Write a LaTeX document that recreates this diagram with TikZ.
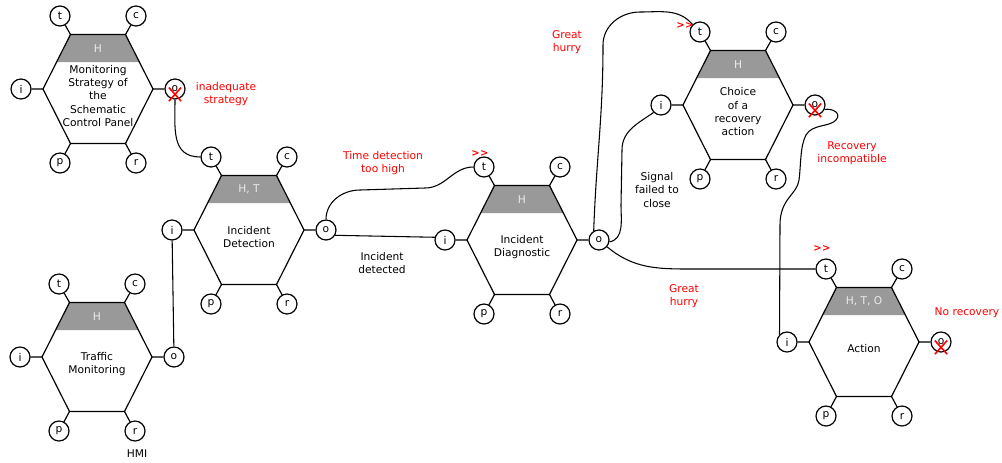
\documentclass[tikz,border=0pt]{standalone}
\usepackage{fontspec}
\setmainfont{DejaVu Sans}
\usepackage{tikz}
\usetikzlibrary{shapes.misc}

\definecolor{bandgrey}{RGB}{153,153,153}
\definecolor{bandfont}{RGB}{235,235,235}
\definecolor{warnred}{RGB}{255,0,0}

% one FRAM function: name, centre, band text, label
\newcommand{\framfn}[4]{%
\begin{scope}[shift={(#2)}]
\coordinate (#1-tl) at (-27.5,54.5);
\coordinate (#1-tr) at (27.5,54.5);
\coordinate (#1-rr) at (55,0);
\coordinate (#1-br) at (27.5,-54.5);
\coordinate (#1-bl) at (-27.5,-54.5);
\coordinate (#1-ll) at (-55,0);
\fill[bandgrey] (#1-tl) -- (#1-tr) -- (41.4,27) -- (-41.4,27) -- cycle;
\draw[hexline] (#1-tl) -- (#1-tr) -- (#1-rr) -- (#1-br) -- (#1-bl) -- (#1-ll) -- cycle;
\node[bandtext] (#1-band) at (0,40.7) {#3};
\node[fntext] (#1-lbl) at (0,-7) {#4};
\node[aspect] (#1-t) at (-38,73) {t};
\node[aspect] (#1-c) at (38,73) {c};
\node[aspect] (#1-i) at (-77,0) {i};
\node[aspect] (#1-o) at (77,0) {o};
\node[aspect] (#1-p) at (-38,-74) {p};
\node[aspect] (#1-r) at (38,-74) {r};
\draw[hexline] (#1-t) -- (#1-tl) (#1-c) -- (#1-tr) (#1-i) -- (#1-ll)
  (#1-o) -- (#1-rr) (#1-p) -- (#1-bl) (#1-r) -- (#1-br);
\end{scope}}

\begin{document}
\begin{tikzpicture}[x=0.75pt,y=0.75pt,
font=\fontsize{8}{10}\selectfont,
hexline/.style={line width=0.9pt},
aspect/.style={circle,draw,line width=0.9pt,fill=white,minimum size=15pt,inner sep=0pt},
bandtext/.style={text=bandfont},
fntext/.style={align=center},
link/.style={line width=0.8pt},
warn/.style={text=warnred,align=center},
failx/.style={cross out,draw=warnred,line width=1.2pt,minimum width=8pt,minimum height=9pt,inner sep=0pt},
hurry/.style={text=warnred,font=\fontsize{7.5}{8}\selectfont\bfseries}
]
\useasboundingbox (0,0) rectangle (1002,-462);

% The functions
\framfn{MS}{98,-89}{H}{Monitoring\\Strategy of\\the\\Schematic\\Control Panel}
\framfn{TM}{97,-357}{H}{Traffic\\Monitoring}
\framfn{ID}{249,-230}{H, T}{Incident\\Detection}
\framfn{IDg}{522,-240}{H}{Incident\\Diagnostic}
\framfn{CR}{738,-105}{H}{Choice\\of a\\recovery\\action}
\framfn{AC}{864,-342}{H, T, O}{Action}

% The couplings
\draw[link] (MS-o.south) to[out=-90,in=180,looseness=1.2] (ID-t.west);
\draw[link] (TM-o) -- (ID-i);
\draw[link] (ID-o.north) to[out=90,in=180] (360,-190) -- (425,-188)
  to[out=0,in=180] (IDg-t.west);
\draw[link] (ID-o.-30) -- (IDg-i.165);
\draw[link] (IDg-o.120) to[out=88,in=-90] (603,-45) to[out=90,in=180] (640,-12)
  to[out=0,in=130] (CR-t.north west);
\draw[link] (IDg-o.-10) to[out=10,in=-90] (621,-205) -- (622,-150)
  to[out=90,in=215] (CR-i.south west);
\draw[link] (IDg-o.-40) to[out=-40,in=180] (690,-269) -- (AC-t.west);
\draw[link] (CR-o.-25) .. controls (832,-108) and (842,-113) .. (836,-120)
  .. controls (830,-127) and (812,-124) .. (806,-135)
  .. controls (800,-146) and (801,-165) .. (799,-180)
  .. controls (797,-195) and (780,-198) .. (780,-225) -- (AC-i.north west);

% The failures
\node[failx] (MS-x) at ([yshift=-4pt]MS-o.center) {};
\node[failx] (CR-x) at ([yshift=-4pt]CR-o.center) {};
\node[failx] (AC-x) at ([yshift=-4pt]AC-o.center) {};
\node[hurry] (IDg-h) at (480,-154) {>\kern0.3pt>};
\node[hurry] (CR-h) at (685,-26) {>\kern0.3pt>};
\node[hurry] (AC-h) at (822,-249) {>\kern0.3pt>};

% The labels
\node[warn] (l-strategy) at (226,-94) {inadequate\\strategy};
\node[warn] (l-time) at (383,-163) {Time detection\\too high};
\node[fntext] (l-detected) at (382,-263) {Incident\\detected};
\node[warn] (l-hurry1) at (567,-42) {Great\\hurry};
\node[fntext] (l-signal) at (657,-190) {Signal\\failed to\\close};
\node[warn] (l-incomp) at (852,-153) {Recovery\\incompatible};
\node[warn] (l-hurry2) at (684,-296) {Great\\hurry};
\node[warn] (l-norec) at (967,-313) {No recovery};
\node (l-hmi) at (137,-454) {HMI};
\end{tikzpicture}
\end{document}
